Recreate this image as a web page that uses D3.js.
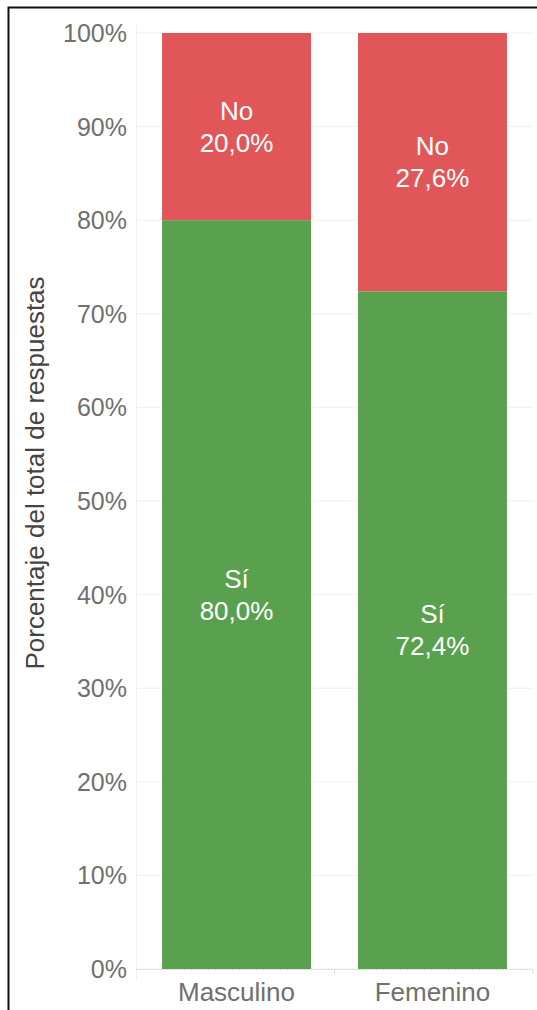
<!DOCTYPE html>
<html>
<head>
<meta charset="utf-8">
<script src="https://cdn.jsdelivr.net/npm/d3@7"></script>
<style>
  body { margin: 0; background: #fff; }
  svg { display: block; font-family: "Liberation Sans", Arial, sans-serif; }
</style>
</head>
<body>
<div class="chart"></div>
<script>
// data
const categories = ['Masculino', 'Femenino'];
const siValues = [80.0, 72.4];
const noValues = [20.0, 27.6];
const yTicks = [0, 10, 20, 30, 40, 50, 60, 70, 80, 90, 100];

const width = 537;
const height = 1010;
const margin = { top: 33, right: 4, bottom: 41, left: 136 };

const svg = d3.select('.chart')
  .append('svg')
  .attr('width', width)
  .attr('height', height);

// frame (only left and top edges visible)
svg.append('path')
  .attr('d', `M8.5,${height} L8.5,7.5 L${width},7.5`)
  .attr('fill', 'none')
  .attr('stroke', '#111')
  .attr('stroke-width', 2);

const x = d3.scaleBand()
  .domain(categories)
  .range([margin.left, width - margin.right])
  .paddingInner(0.24)
  .paddingOuter(0.133);

const y = d3.scaleLinear()
  .domain([0, 100])
  .range([height - margin.bottom, margin.top]);

// grid
svg.append('g')
  .selectAll('line')
  .data(yTicks)
  .enter()
  .append('line')
  .attr('x1', margin.left)
  .attr('x2', width - margin.right)
  .attr('y1', d => y(d))
  .attr('y2', d => y(d))
  .attr('stroke', '#f0f0f0')
  .attr('stroke-width', 1);

svg.append('line')
  .attr('x1', margin.left + 0.5)
  .attr('x2', margin.left + 0.5)
  .attr('y1', margin.top - 10)
  .attr('y2', height - margin.bottom + 12)
  .attr('stroke', '#f2f2f2');

// y tick labels
svg.append('g')
  .selectAll('text')
  .data(yTicks)
  .enter()
  .append('text')
  .attr('x', 127)
  .attr('y', d => y(d))
  .attr('dy', '0.36em')
  .attr('text-anchor', 'end')
  .attr('font-size', 25)
  .attr('fill', '#707070')
  .text(d => d + '%');

// y title
svg.append('text')
  .attr('transform', 'translate(44, 473) rotate(-90)')
  .attr('text-anchor', 'middle')
  .attr('font-size', 26)
  .attr('fill', '#444')
  .text('Porcentaje del total de respuestas');

// bars
const rows = categories.map((c, i) => ({ cat: c, si: siValues[i], no: noValues[i] }));
const fmt = v => v.toFixed(1).replace('.', ',') + '%';

const groups = svg.append('g')
  .selectAll('g')
  .data(rows)
  .enter()
  .append('g');

groups.append('rect')
  .attr('x', d => x(d.cat))
  .attr('width', x.bandwidth())
  .attr('y', d => y(d.si))
  .attr('height', d => y(0) - y(d.si))
  .attr('fill', '#59a14f');

groups.append('rect')
  .attr('x', d => x(d.cat))
  .attr('width', x.bandwidth())
  .attr('y', d => y(d.si + d.no))
  .attr('height', d => y(d.si) - y(d.si + d.no))
  .attr('fill', '#e15759');

function label(sel, name, lo, hi, key) {
  const t = sel.append('text')
    .attr('text-anchor', 'middle')
    .attr('font-size', 26)
    .attr('fill', '#fff');
  t.append('tspan')
    .attr('x', d => x(d.cat) + x.bandwidth() / 2)
    .attr('y', d => (y(lo(d)) + y(hi(d))) / 2 - 7)
    .text(name);
  t.append('tspan')
    .attr('x', d => x(d.cat) + x.bandwidth() / 2)
    .attr('y', d => (y(lo(d)) + y(hi(d))) / 2 + 25)
    .text(d => fmt(d[key]));
}
label(groups, 'No', d => d.si, d => d.si + d.no, 'no');
label(groups, 'Sí', d => 0, d => d.si, 'si');

// x axis
const xAxis = svg.append('g');
xAxis.append('line')
  .attr('x1', margin.left)
  .attr('x2', width - margin.right)
  .attr('y1', y(0) + 0.5)
  .attr('y2', y(0) + 0.5)
  .attr('stroke', '#d8d8d8')
  .attr('stroke-dasharray', '2,1');

const step = x.step();
const bounds = [x(categories[0]) + x.bandwidth() + (step - x.bandwidth()) / 2, width - margin.right];
xAxis.selectAll('.tick')
  .data(bounds)
  .enter()
  .append('line')
  .attr('x1', d => d)
  .attr('x2', d => d)
  .attr('y1', y(0))
  .attr('y2', y(0) + 5)
  .attr('stroke', '#e0e0e0');

xAxis.selectAll('text')
  .data(categories)
  .enter()
  .append('text')
  .attr('x', d => x(d) + x.bandwidth() / 2)
  .attr('y', y(0) + 32)
  .attr('text-anchor', 'middle')
  .attr('font-size', 26)
  .attr('fill', '#707070')
  .text(d => d);
</script>
</body>
</html>
